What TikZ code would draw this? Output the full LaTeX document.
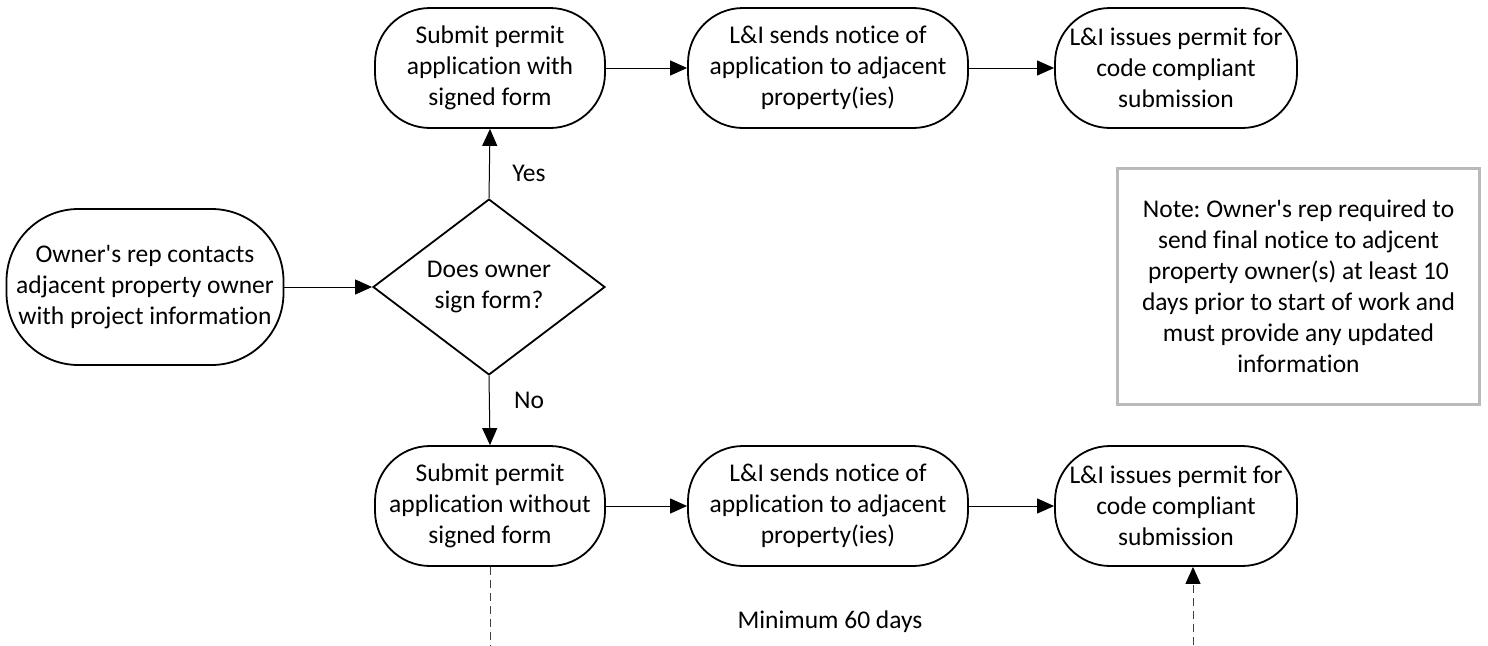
\documentclass[tikz,border=0pt]{standalone}
\usepackage{fontspec}
\setmainfont{Carlito}[Ligatures={TeX,NoCommon}]
\usetikzlibrary{shapes.geometric,arrows.meta}
\begin{document}
\frenchspacing
\begin{tikzpicture}[x=1pt,y=-1pt,
  txt/.style={font=\fontsize{25.5}{31}\selectfont, align=center},
  proc/.style={txt, draw, line width=1.8pt, rounded corners=55pt, minimum width=230pt, minimum height=120pt, inner sep=0pt},
  dec/.style={txt, draw, line width=1.8pt, diamond, minimum width=232pt, minimum height=173pt, inner sep=0pt},
  notebox/.style={txt, draw=black!27, line width=3pt, minimum width=362pt, minimum height=236pt, inner sep=0pt},
  arr/.style={-{Triangle[length=17pt,width=15pt]}, line width=1pt},
  dsh/.style={line width=0.9pt, draw=black!75, dash pattern=on 8pt off 5pt},
  lbl/.style={txt}
]
\useasboundingbox (0,0) rectangle (1488,645);
\node[proc, minimum width=277pt, minimum height=156pt, rounded corners=72pt] (start) at (145,287) {Owner\textquotesingle s rep contacts\\adjacent property owner\\with project information};
\node[dec] (q) at (489,287) {Does owner\\sign form?};
\node[proc] (a1) at (490,68) {Submit permit\\application with\\signed form};
\node[proc, minimum width=280pt] (a2) at (828,68) {L\&I sends notice of\\application to adjacent\\property(ies)};
\node[proc, minimum width=242pt] (a3) at (1176,68) {L\&I issues permit for\\code compliant\\submission};
\node[proc] (b1) at (490,506) {Submit permit\\application without\\signed form};
\node[proc, minimum width=280pt] (b2) at (828,506) {L\&I sends notice of\\application to adjacent\\property(ies)};
\node[proc, minimum width=242pt] (b3) at (1176,506) {L\&I issues permit for\\code compliant\\submission};
\node[notebox] (note) at (1298.5,286.5) {Note: Owner\textquotesingle s rep required to\\send final notice to adjcent\\property owner(s) at least 10\\days prior to start of work and\\must provide any updated\\information};
\node[lbl] (yes) at (529,173) {Yes};
\node[lbl] (no) at (529,400) {No};
\node[lbl] (min) at (830,622) {Minimum 60 days};
\coordinate (d1) at (490,645);
\coordinate (d2) at (1193,645);
\draw[arr] (start) -- (q);
\draw[arr] (q.north) -- (a1.south);
\draw[arr] (q.south) -- (b1.north);
\draw[arr] (a1) -- (a2);
\draw[arr] (a2) -- (a3);
\draw[arr] (b1) -- (b2);
\draw[arr] (b2) -- (b3);
\draw[dsh] (b1.south) -- (d1);
\draw[dsh, -{Triangle[length=17pt,width=15pt,color=black,fill=black]}] (d2) -- (d2 |- b3.south);
\end{tikzpicture}
\end{document}
